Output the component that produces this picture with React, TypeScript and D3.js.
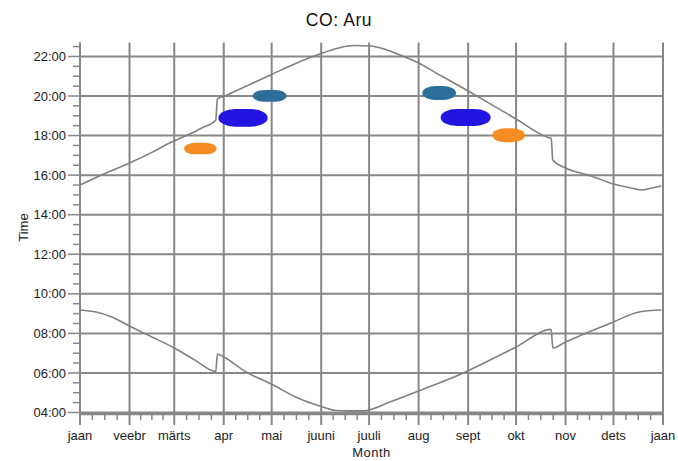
import React from "react";
import * as d3 from "d3";

// ---- data (day of year 0..365, hours of day) ----
const sunsetDays = [0, 12, 31, 45, 56, 66, 76, 85, 86, 90, 105, 120, 135, 150, 162, 172, 182, 192, 202, 212, 222, 243, 258, 273, 294, 295, 296, 304, 320, 334, 345, 352, 358, 364];
const sunsetHours = [15.5, 15.96, 16.61, 17.15, 17.62, 17.98, 18.37, 18.79, 19.85, 19.98, 20.53, 21.09, 21.64, 22.12, 22.43, 22.55, 22.53, 22.33, 22.02, 21.67, 21.21, 20.25, 19.55, 18.84, 17.88, 17.86, 16.76, 16.36, 15.96, 15.55, 15.35, 15.25, 15.35, 15.45];

const sunriseDays = [0, 10, 20, 31, 45, 59, 72, 85, 86, 90, 104, 121, 135, 151, 160, 168, 178, 182, 194, 212, 240, 258, 273, 295, 296, 304, 320, 334, 350, 364];
const sunriseHours = [9.18, 9.08, 8.83, 8.37, 7.82, 7.26, 6.65, 6.07, 6.96, 6.81, 6.05, 5.39, 4.78, 4.3, 4.1, 4.08, 4.08, 4.15, 4.53, 5.09, 6.0, 6.7, 7.31, 8.2, 7.26, 7.56, 8.12, 8.58, 9.08, 9.18];

// observation clusters: start/end day, low/high hour, colour group
const blobStartDay = [65.1, 108.1, 86.6, 214.3, 225.8, 258.1];
const blobEndDay = [85.6, 129.4, 117.5, 235.4, 257.1, 278.6];
const blobLowHour = [17.05, 19.71, 18.45, 19.8, 18.48, 17.66];
const blobHighHour = [17.64, 20.3, 19.34, 20.51, 19.34, 18.37];
const blobGroup = ["orange", "steel", "blue", "steel", "blue", "orange"];
const groupColors: Record<string, string> = { orange: "#F58C24", steel: "#2D6E9B", blue: "#2314E1" };

const monthLabels = ["jaan", "veebr", "märts", "apr", "mai", "juuni", "juuli", "aug", "sept", "okt", "nov", "dets", "jaan"];
const hourTicks = [4, 6, 8, 10, 12, 14, 16, 18, 20, 22];

const W = 678, H = 461;
const GRID = "#878787";
const FONT = "'Liberation Sans', Arial, sans-serif";

export default function App() {
  const year = 2022;
  const start = new Date(year, 0, 1);
  const end = new Date(year + 1, 0, 1);
  const x = d3.scaleTime().domain([start, end]).range([80, 663]);
  const y = d3.scaleLinear().domain([4, 22.7]).range([412.5, 42.6]);
  const dayToDate = (d: number) => new Date(start.getTime() + d * 86400000);

  const months = d3.timeMonth.range(start, d3.timeDay.offset(end, 1));
  // minor ticks: quarters of each month
  const minorX: Date[] = [];
  for (let i = 0; i < 12; i++) {
    const a = months[i].getTime();
    const b = months[i + 1].getTime();
    for (let k = 1; k < 4; k++) minorX.push(new Date(a + ((b - a) * k) / 4));
  }
  const minorY = d3.range(4, 22.51, 0.5).filter((v) => v % 2 !== 0);

  const line = d3
    .line<[number, number]>()
    .x((d) => x(dayToDate(d[0])))
    .y((d) => y(d[1]))
    .curve(d3.curveMonotoneX);
  const sunset = line(sunsetDays.map((d, i) => [d, sunsetHours[i]]) as [number, number][]) || "";
  const sunrise = line(sunriseDays.map((d, i) => [d, sunriseHours[i]]) as [number, number][]) || "";

  const [y0, y1] = y.range();
  const [x0, x1] = x.range();

  return (
    <svg width={W} height={H} style={{ position: "absolute", left: 0, top: 0, background: "#fff" }} fontFamily={FONT}>
      <text x={339} y={26} textAnchor="middle" fontSize={17.5} letterSpacing={0.6} fill="#111">
        CO: Aru
      </text>

      {/* grid */}
      {hourTicks.map((h) => (
        <line key={"hg" + h} x1={x0} x2={x1} y1={y(h)} y2={y(h)} stroke={GRID} strokeWidth={2} />
      ))}
      {months.map((m, i) => (
        <line key={"vg" + i} x1={x(m)} x2={x(m)} y1={y1} y2={y0} stroke={GRID} strokeWidth={2} />
      ))}

      {/* clusters */}
      {blobStartDay.map((s, i) => {
        const bx = x(dayToDate(s));
        const bw = x(dayToDate(blobEndDay[i])) - bx;
        const by = y(blobHighHour[i]);
        const bh = y(blobLowHour[i]) - by;
        return (
          <rect key={"b" + i} x={bx} y={by} width={bw} height={bh} rx={bh * 0.95} ry={bh / 2} fill={groupColors[blobGroup[i]]} />
        );
      })}

      {/* curves */}
      <path d={sunset} fill="none" stroke="#808080" strokeWidth={1.6} />
      <path d={sunrise} fill="none" stroke="#808080" strokeWidth={1.6} />

      {/* y axis */}
      <line x1={x0} x2={x0} y1={y1} y2={y0 + 1} stroke={GRID} strokeWidth={2} />
      {hourTicks.map((h) => (
        <g key={"yt" + h}>
          <line x1={68} x2={x0} y1={y(h)} y2={y(h)} stroke={GRID} strokeWidth={1.5} />
          <text x={66} y={y(h)} dy="0.36em" textAnchor="end" fontSize={13} fill="#222">
            {String(h).padStart(2, "0") + ":00"}
          </text>
        </g>
      ))}
      {minorY.map((h) => (
        <line key={"ym" + h} x1={73} x2={x0} y1={y(h)} y2={y(h)} stroke={GRID} strokeWidth={1.5} />
      ))}
      <text transform={`translate(28,${(y0 + y1) / 2}) rotate(-90)`} textAnchor="middle" fontSize={13} fill="#222">
        Time
      </text>

      {/* x axis */}
      <line x1={x0 - 1} x2={x1 + 1} y1={413.8} y2={413.8} stroke={GRID} strokeWidth={3} />
      {months.map((m, i) => (
        <g key={"xt" + i}>
          <line x1={x(m)} x2={x(m)} y1={413} y2={425} stroke={GRID} strokeWidth={2} />
          <text x={x(m)} y={440} textAnchor="middle" fontSize={13} fill="#222">
            {monthLabels[i]}
          </text>
        </g>
      ))}
      {minorX.map((m, i) => (
        <line key={"xm" + i} x1={x(m)} x2={x(m)} y1={414} y2={420} stroke={GRID} strokeWidth={1.5} />
      ))}
      <text x={(x0 + x1) / 2} y={457} textAnchor="middle" fontSize={13} letterSpacing={0.5} fill="#222">
        Month
      </text>
    </svg>
  );
}
